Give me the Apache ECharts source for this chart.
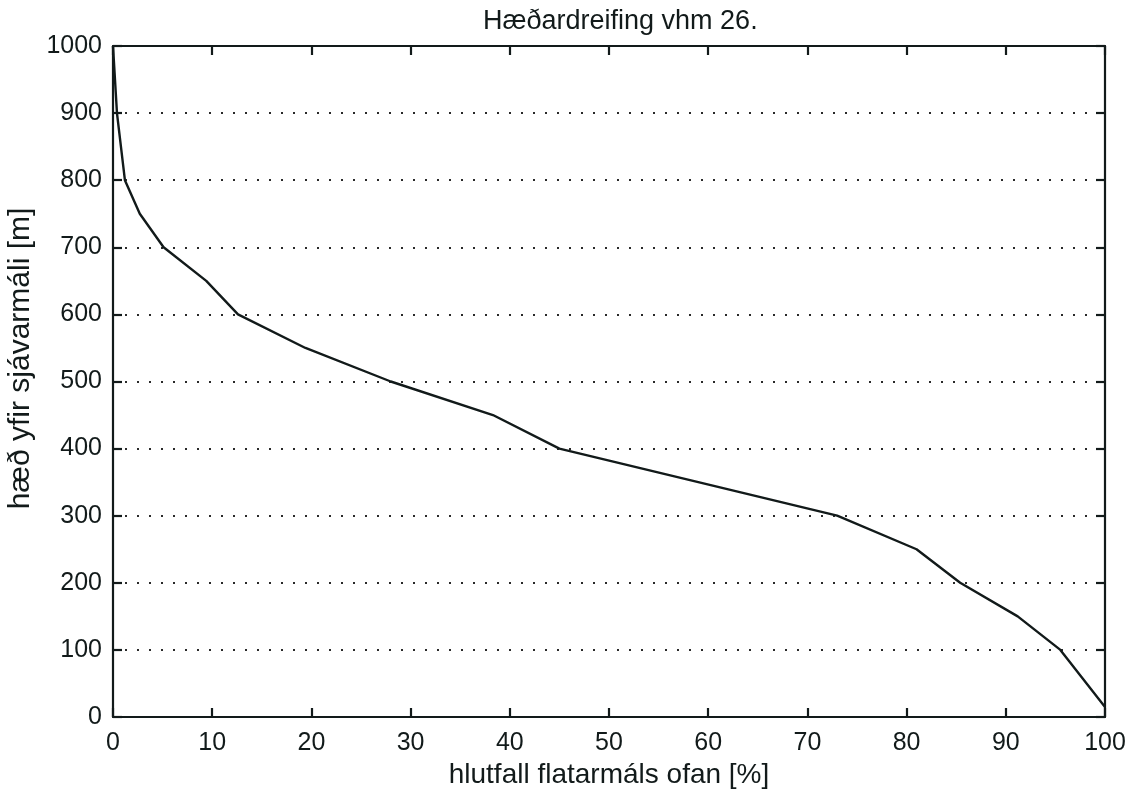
<!DOCTYPE html>
<html><head><meta charset="utf-8">
<script src="https://cdn.jsdelivr.net/npm/echarts@6/dist/echarts.min.js"></script>
<style>html,body{margin:0;padding:0;background:#fff}#c{width:1137px;height:792px}</style>
</head><body><div id="c"></div>
<script>
const titleText = 'Hæðardreifing vhm 26.';
const xName = 'hlutfall flatarmáls ofan [%]';
const yName = 'hæð yfir sjávarmáli [m]';
const pctAbove = [0, 0.4, 1.2, 2.7, 5.1, 9.4, 12.6, 19.4, 28, 38.3, 45, 73, 81, 85.4, 91.2, 95.5, 100];
const elevation = [1000, 900, 800, 750, 700, 650, 600, 550, 500, 450, 400, 300, 250, 200, 150, 100, 15];
const xTicks = [0,10,20,30,40,50,60,70,80,90,100];
const yTicks = [0,100,200,300,400,500,600,700,800,900,1000];

const ink = '#121a1a';
const font = 'Liberation Sans, Arial, sans-serif';
const chart = echarts.init(document.getElementById('c'));
const axisBase = {
  axisLine: {show: true, onZero: false, lineStyle: {color: ink, width: 2.2}},
  axisTick: {show: true, inside: true, length: 9, lineStyle: {color: ink, width: 2.2}},
};
chart.setOption({
  animation: false,
  title: {text: titleText, left: 478, top: 3, textStyle: {fontFamily: font, fontSize: 27, fontWeight: 'normal', color: ink}},
  grid: {left: 113, right: 32, top: 46, bottom: 75, containLabel: false, outerBoundsMode: 'none'},
  xAxis: [
    Object.assign({type: 'value', min: 0, max: 100, interval: 10, position: 'bottom',
      name: xName, nameLocation: 'middle', nameGap: 43,
      nameTextStyle: {fontFamily: font, fontSize: 28, color: ink},
      axisLabel: {fontFamily: font, fontSize: 25, color: ink, margin: 14, formatter: v => xTicks.includes(v) ? String(v) : ''},
      splitLine: {show: false}}, axisBase),
    Object.assign({type: 'value', min: 0, max: 100, interval: 10, position: 'top',
      axisLabel: {show: false}, splitLine: {show: false}}, axisBase)
  ],
  yAxis: [
    Object.assign({type: 'value', min: 0, max: 1000, interval: 100, position: 'left',
      name: yName, nameLocation: 'middle', nameGap: 73, nameRotate: 90,
      nameTextStyle: {fontFamily: font, fontSize: 30, color: ink, padding: [0, 0, 0, 46]},
      axisLabel: {fontFamily: font, fontSize: 25, color: ink, margin: 11, formatter: v => yTicks.includes(v) ? String(v) : ''},
      splitLine: {show: true, lineStyle: {color: '#2a2a2a', width: 2, type: [2, 10]}}}, axisBase),
    Object.assign({type: 'value', min: 0, max: 1000, interval: 100, position: 'right',
      axisLabel: {show: false}, splitLine: {show: false}}, axisBase)
  ],
  series: [{
    type: 'line', xAxisIndex: 0, yAxisIndex: 0, symbol: 'none',
    lineStyle: {color: ink, width: 2.4},
    data: pctAbove.map((p, i) => [p, elevation[i]])
  }]
});
</script></body></html>
